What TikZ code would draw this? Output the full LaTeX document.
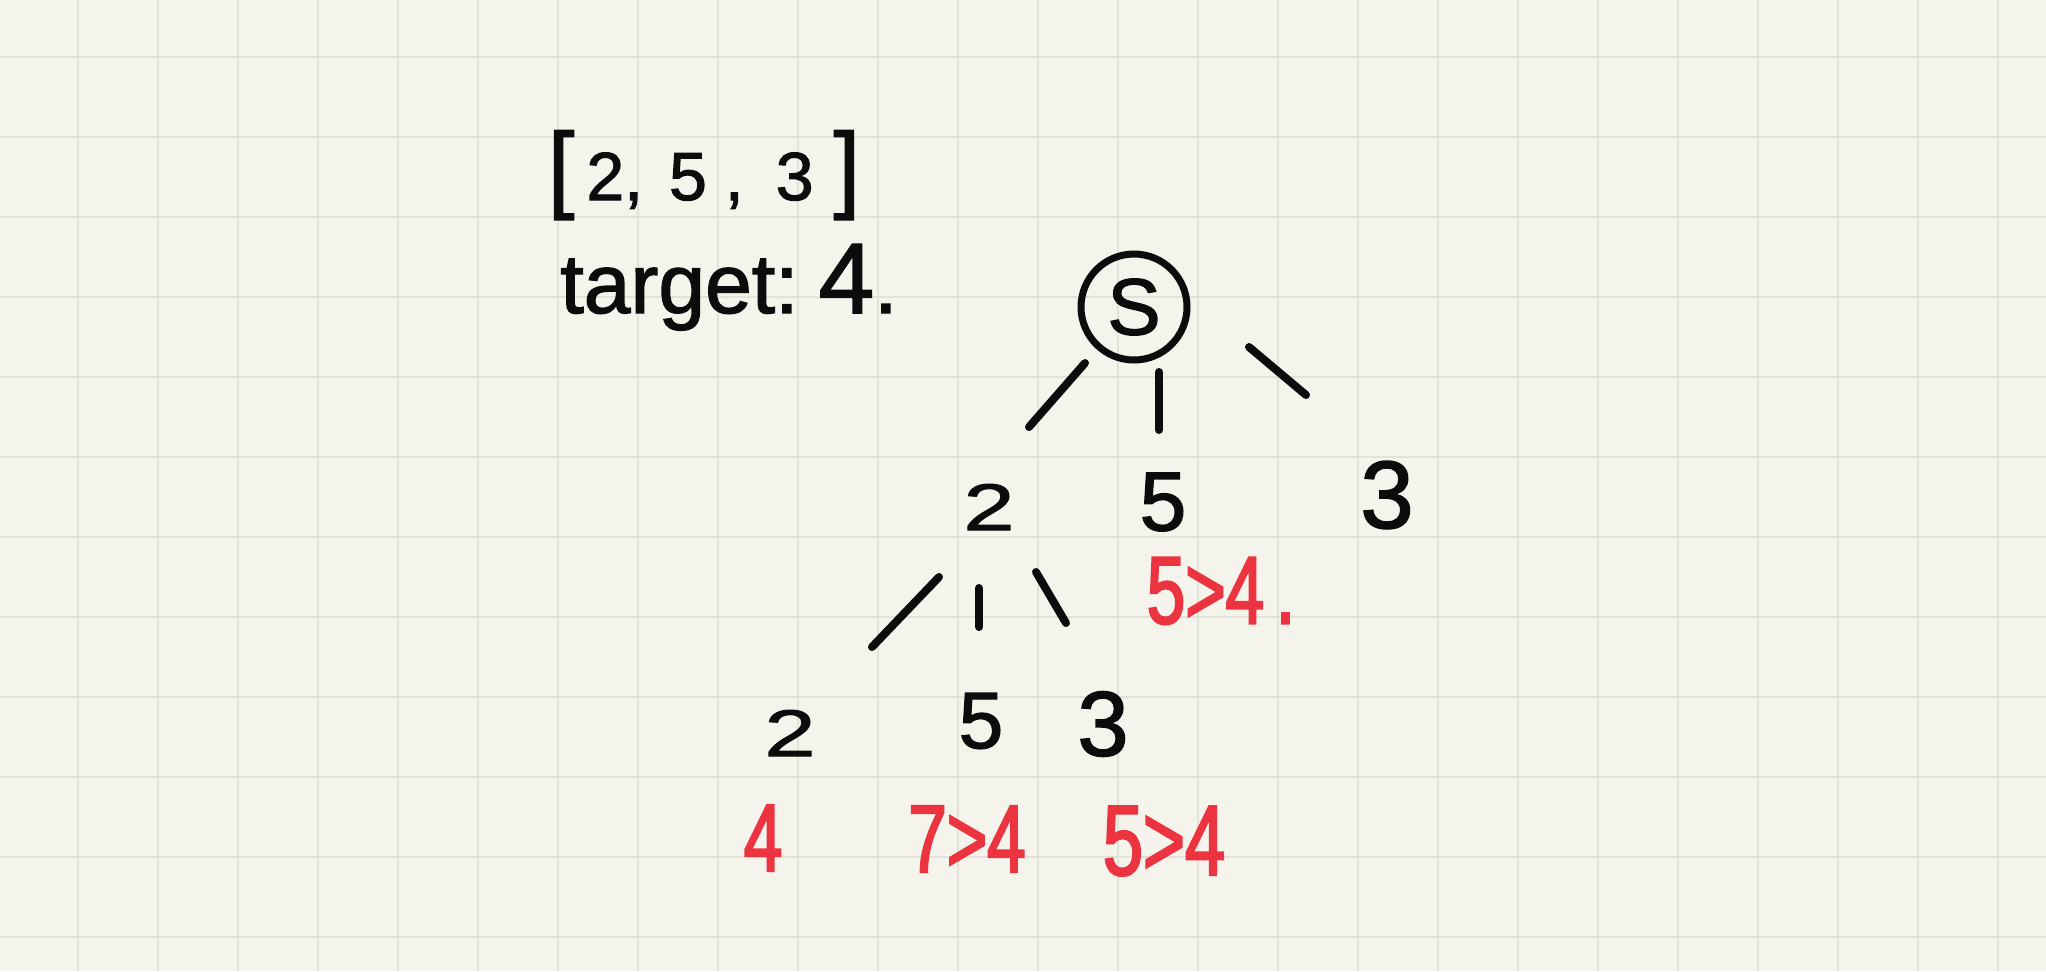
\documentclass[tikz,border=0pt]{standalone}
\usepackage{fontspec}
\setmainfont[FakeBold=1.6]{Liberation Sans}
\newfontfamily\handnarrow[FakeStretch=0.72,FakeBold=2.2]{Liberation Sans}
\newfontfamily\handwide[FakeStretch=1.4,FakeBold=1.4]{Liberation Sans}
\newcommand{\fsz}[1]{\fontsize{#1}{#1}\selectfont}
\definecolor{paper}{RGB}{244,244,236}
\definecolor{gridc}{RGB}{226,226,217}
\definecolor{inkc}{RGB}{12,12,12}
\definecolor{redink}{RGB}{236,52,64}
\begin{document}
\begin{tikzpicture}[x=0.5pt,y=-0.5pt,
  gridrule/.style={draw=gridc, line width=1.1pt},
  digit/.style={text=inkc, inner sep=0pt},
  rednote/.style={text=redink, inner sep=0pt},
  stroke/.style={draw=inkc, line width=4pt, line cap=round},
]
\fill[paper] (0,0) rectangle (2046,971);
\useasboundingbox (0,0) rectangle (2046,971);
\foreach \k in {0,...,24} \draw[gridrule] (78+80*\k,0) -- (78+80*\k,971);
\foreach \k in {0,...,11} \draw[gridrule] (0,57+80*\k) -- (2046,57+80*\k);

% header
\node[digit, anchor=base, font=\fsz{34}] (arr) at (704,200)
  {{\fsz{48}[}\hspace{6pt}2,\hspace{13pt}5\hspace{9pt},\hspace{16pt}3\hspace{10pt}{\fsz{48}]}};
\node[digit, anchor=base west, font=\fsz{42}] (tgt) at (560,313)
  {target:\hspace{10pt}{\fsz{50}4}.};

% tree
\node[digit, font=\fsz{40}, circle, draw=inkc, line width=3.5pt, minimum size=53pt] (root) at (1134,307) {S};
\node[digit, font={\handwide\fsz{33}}] (a) at (989,507) {2};
\node[digit, font=\fsz{42}] (b) at (1163,502) {5};
\node[digit, font=\fsz{48}] (c) at (1387,495) {3};
\node[digit, font={\handwide\fsz{33}}] (aa) at (790,733) {2};
\node[digit, font=\fsz{40}] (ab) at (981,721) {5};
\node[digit, font=\fsz{46}] (ac) at (1103,724) {3};

% strokes
\coordinate (r1s) at (1085,363); \coordinate (r1e) at (1029,427);
\coordinate (r2s) at (1159,372); \coordinate (r2e) at (1159,430);
\coordinate (r3s) at (1249,347); \coordinate (r3e) at (1306,395);
\coordinate (a1s) at (939,577);  \coordinate (a1e) at (872,647);
\coordinate (a2s) at (979,588);  \coordinate (a2e) at (979,627);
\coordinate (a3s) at (1036,572); \coordinate (a3e) at (1066,623);
\draw[stroke] (r1s) -- (r1e);
\draw[stroke] (r2s) -- (r2e);
\draw[stroke] (r3s) -- (r3e);
\draw[stroke] (a1s) -- (a1e);
\draw[stroke] (a2s) -- (a2e);
\draw[stroke] (a3s) -- (a3e);

% red notes
\node[rednote, font={\handnarrow\fsz{48}}] (rd) at (1221,591) {5>4\hspace{6pt}.};
\node[rednote, font={\handnarrow\fsz{48}}] (ra) at (763,838) {4};
\node[rednote, font={\handnarrow\fsz{48}}] (rb) at (967,839) {7>4};
\node[rednote, font={\handnarrow\fsz{50}}] (rc) at (1164,841) {5>4};
\end{tikzpicture}
\end{document}
